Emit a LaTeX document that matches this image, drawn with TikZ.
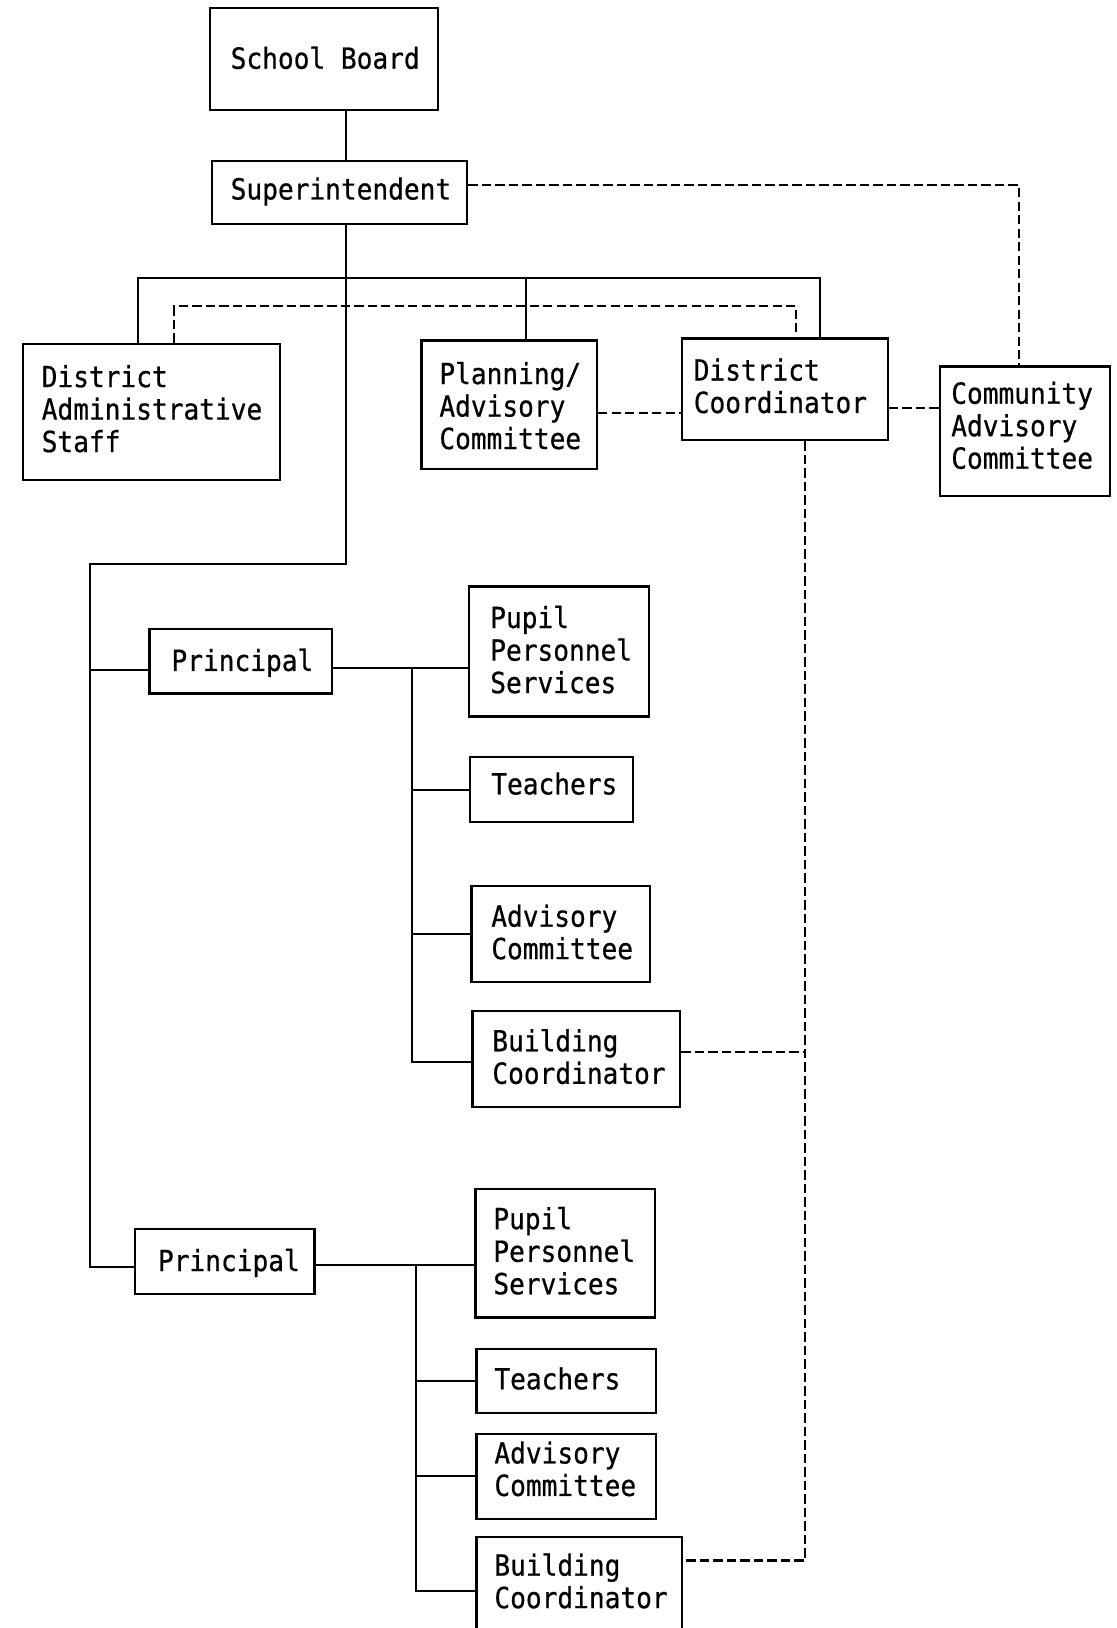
\documentclass[tikz,border=0pt]{standalone}
\usepackage{fontspec}
\newfontfamily\tfont[FakeStretch=0.9,FakeBold=0.6]{DejaVu Sans Mono}
\tikzset{
  boxst/.style={draw, line width=2.2pt, inner sep=0pt},
  txtst/.style={inner sep=0pt, align=left, anchor=west,
                font=\tfont\fontsize{28pt}{30pt}\selectfont},
  ln/.style={line width=1.9pt},
  dsh/.style={line width=2pt, dash pattern=on 9pt off 4pt},
}
% name, x1, y1, x2, y2, pad, text centre y, text
\newcommand\obox[8]{%
  \node[boxst, minimum width={(#4-#2)*1pt}, minimum height={(#5-#3)*1pt}]
     (#1) at ({(#2+#4)/2},{(#3+#5)/2}) {};
  \node[txtst] (#1t) at ({#2+#6},{#7}) {#8};}
\begin{document}
\begin{tikzpicture}[x=1pt,y=-1pt]
\useasboundingbox[fill=white] (0,0) rectangle (1075,1568);

% boxes
\obox{sb}{202}{8}{422}{106}{20}{60}{\strut School Board}
\obox{sup}{204}{155}{450}{216}{18}{186}{\strut Superintendent}
\obox{das}{22}{331}{270}{462}{18}{398}{\strut District\\\strut Administrative\\\strut Staff}
\obox{pac}{406}{328}{575}{452}{17}{395}{\strut Planning/\\\strut Advisory\\\strut Committee}
\obox{dc}{657}{326}{855}{424}{11}{376}{\strut District\\\strut Coordinator}
\obox{cac}{905}{353}{1069}{478}{11}{414}{\strut Community\\\strut Advisory\\\strut Committee}

\obox{pa}{144}{606}{320}{668}{21}{640}{\strut Principal}
\obox{ppsa}{452}{565}{625}{690}{20}{630}{\strut Pupil\\\strut Personnel\\\strut Services}
\obox{ta}{453}{729}{610}{792}{20}{759}{\strut Teachers}
\obox{aca}{454}{853}{626}{946}{19}{902}{\strut Advisory\\\strut Committee}
\obox{bca}{455}{974}{655}{1066}{19}{1022}{\strut Building\\\strut Coordinator}

\obox{pb}{130}{1184}{303}{1246}{22}{1218}{\strut Principal}
\obox{ppsb}{458}{1145}{631}{1269}{17}{1209}{\strut Pupil\\\strut Personnel\\\strut Services}
\obox{tb}{459}{1299}{632}{1361}{17}{1332}{\strut Teachers}
\obox{acb}{459}{1381}{632}{1463}{17}{1419}{\strut Advisory\\\strut Committee}
\obox{bcb}{459}{1480}{657}{1600}{17}{1527}{\strut Building\\\strut Coordinator}

% helper coordinates
\coordinate (trk) at (333,0);
\coordinate (elb1) at (333,543);
\coordinate (elb2) at (87,543);
\coordinate (barL) at (133,268);
\coordinate (barM) at (507,268);
\coordinate (barR) at (790,268);
\coordinate (dL) at (168,295);
\coordinate (dR) at (767,295);
\coordinate (sR) at (981,178);
\coordinate (pd) at (0,398);
\coordinate (dcc) at (0,393);
\coordinate (v1) at (775,1013);
\coordinate (v2) at (775,1503);
\coordinate (pay) at (0,645);
\coordinate (pby) at (0,1220);
\coordinate (b1) at (397,643);
\coordinate (b1e) at (397,1023);
\coordinate (b2) at (401,1218);
\coordinate (b2e) at (401,1532);

% solid connectors
\draw[ln] (sb.south -| trk) -- (sup.north -| trk);
\draw[ln] (sup.south -| trk) -- (elb1) -- (elb2) -- (elb2 |- pby) -- (pb.west |- pby);
\draw[ln] (elb2 |- pay) -- (pa.west |- pay);
\draw[ln] (das.north -| barL) -- (barL) -- (barR) -- (dc.north -| barR);
\draw[ln] (barM) -- (pac.north -| barM);

\draw[ln] (pa.east |- b1) -- (ppsa.west |- b1);
\draw[ln] (b1) -- (b1e) -- (bca.west |- b1e);
\draw[ln] (b1 |- ta.west) -- (ta.west);
\draw[ln] (b1 |- aca.west) -- (aca.west);

\draw[ln] (pb.east |- b2) -- (ppsb.west |- b2);
\draw[ln] (b2) -- (b2e) -- (bcb.west |- b2e);
\draw[ln] (b2 |- tb.west) -- (tb.west);
\draw[ln] (b2 |- acb.west) -- (acb.west);

% dashed connectors
\draw[dsh] (sup.east |- sR) -- (sR) -- (cac.north -| sR);
\draw[dsh] (das.north -| dL) -- (dL) -- (dR) -- (dc.north -| dR);
\draw[dsh] (pac.east |- pd) -- (dc.west |- pd);
\draw[dsh] (dc.east |- dcc) -- (cac.west |- dcc);
\draw[dsh] (dc.south -| v1) -- (v2) -- (bcb.east |- v2);
\draw[dsh] (bca.east |- v1) -- (v1);
\end{tikzpicture}
\end{document}
